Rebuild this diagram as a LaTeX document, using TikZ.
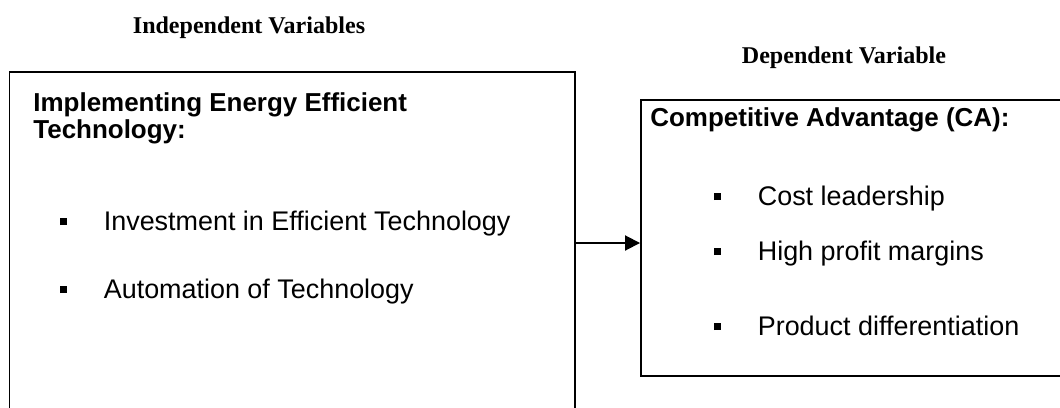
\documentclass[tikz,border=0pt]{standalone}
\usepackage{fontspec}
\setmainfont{Liberation Serif}
\setsansfont{Liberation Sans}
\usetikzlibrary{arrows.meta, fit}
\newcommand{\sqb}{\rule[2.6pt]{3.6pt}{3.6pt}\hspace{19pt}}
\tikzset{
  heading/.style={font=\fontsize{12.5}{15}\selectfont\bfseries, inner sep=0pt, anchor=base},
  boxtext/.style={font=\fontsize{14}{16}\selectfont\sffamily, inner sep=0pt, anchor=base west},
  boxhead/.style={boxtext, font=\fontsize{13.5}{16}\selectfont\sffamily\bfseries},
  varbox/.style={draw, line width=1pt, inner sep=0pt}
}

\begin{document}
\begin{tikzpicture}[x=0.52pt, y=-0.52pt]
\useasboundingbox (0,0) rectangle (1060,408);
\clip (0,0) rectangle (1060,408);
\node[heading] (ivtitle) at (249,33) {Independent Variables};
\node[heading] (dvtitle) at (844,63) {Dependent Variable};

\node[varbox, fit={(9.5,72) (575,430)}] (ivbox) {};
\node[varbox, fit={(641,100) (1080,376)}] (dvbox) {};

\node[boxhead] (ivhead) at (33,111) {Implementing Energy Efficient};
\node[boxhead] (ivhead2) at (33,138) {Technology:};
\node[boxtext] (iv1) at (60,230) {\sqb Investment in Efficient Technology};
\node[boxtext] (iv2) at (60,298) {\sqb Automation of Technology};

\node[boxhead] (dvhead) at (650,126) {Competitive Advantage (CA):};
\node[boxtext] (dv1) at (714,205) {\sqb Cost leadership};
\node[boxtext] (dv2) at (714,260) {\sqb High profit margins};
\node[boxtext] (dv3) at (714,335) {\sqb Product differentiation};

\coordinate (arr) at (608,243);
\draw[line width=1pt, -{Triangle[length=7.8pt,width=7.8pt]}] (ivbox.east |- arr) -- (dvbox.west |- arr);
\end{tikzpicture}
\end{document}
